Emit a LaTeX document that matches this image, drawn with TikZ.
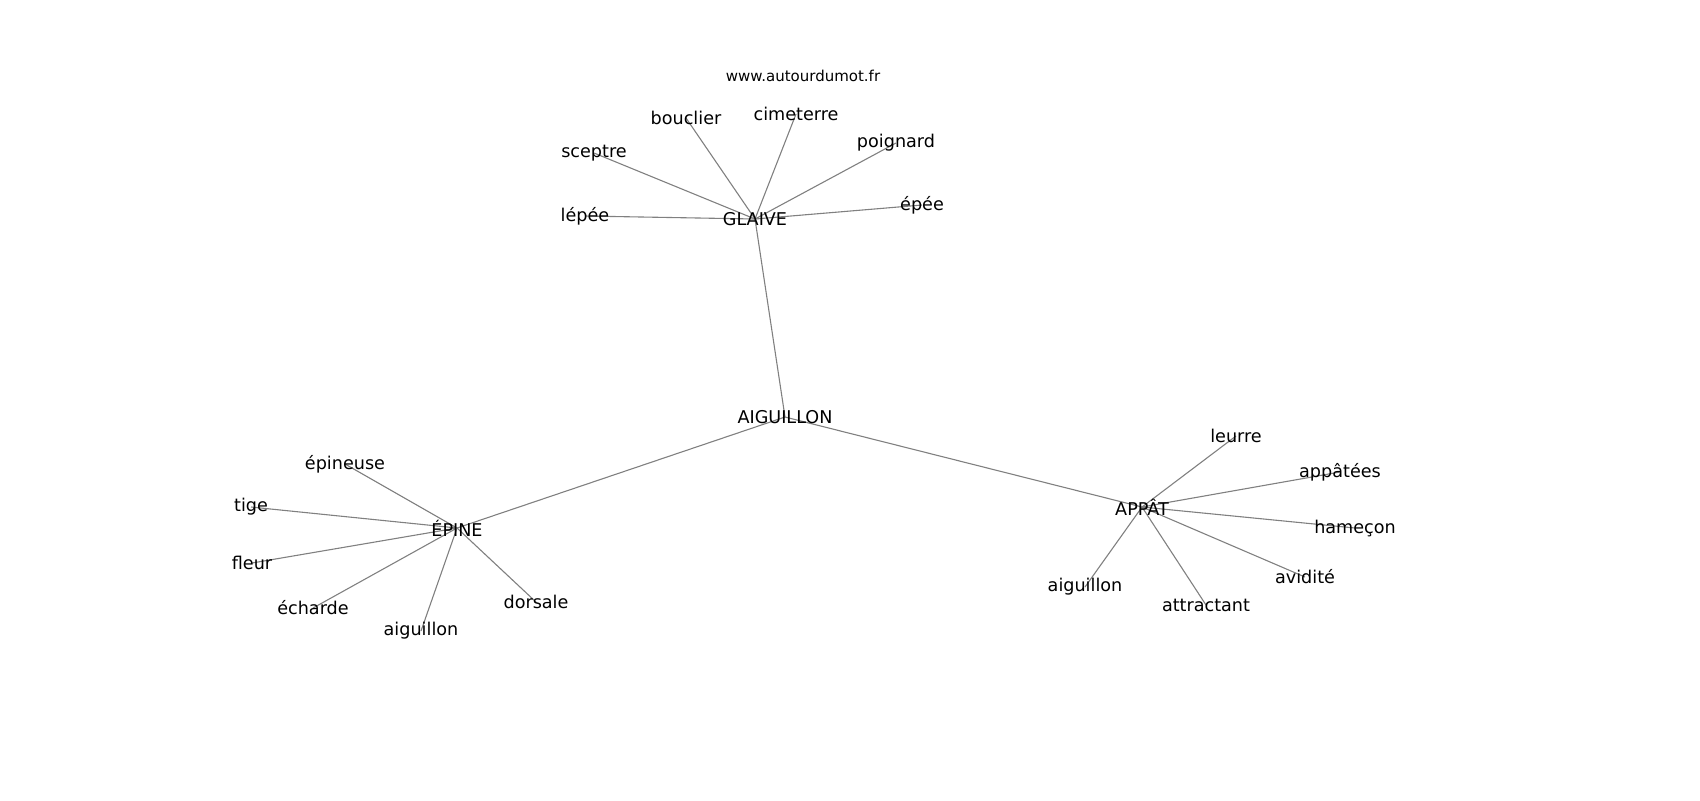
\documentclass[tikz,border=0pt]{standalone}
\usepackage{fontspec}
\setmainfont{DejaVu Sans}
\usetikzlibrary{backgrounds}
\tikzset{
    word/.style={inner sep=0pt, font=\fontsize{8.8}{10}\selectfont},
    site/.style={inner sep=0pt, font=\fontsize{7.5}{9}\selectfont},
    link/.style={draw=gray, line width=0.55pt}
}

\begin{document}
\begin{tikzpicture}[x=0.5pt, y=-0.5pt]
    \useasboundingbox (0,0) rectangle (1700,800);
    \node[site] (site) at (803,76) {www.autourdumot.fr};
    % hubs
    \node[word] (aig) at (785,417) {AIGUILLON};
    \node[word] (glaive) at (755,219) {GLAIVE};
    \node[word] (epine) at (457,528) {ÉPINE};
    \node[word] (appat) at (1142,507) {APPÂT};
    % glaive
    \node[word] (bouclier) at (686,118) {bouclier};
    \node[word] (cimeterre) at (796,114) {cimeterre};
    \node[word] (poignard) at (896,143) {poignard};
    \node[word] (sceptre) at (594,153) {sceptre};
    \node[word] (lepee) at (585,216) {lépée};
    \node[word] (epee) at (922,205) {épée};
    % epine
    \node[word] (epineuse) at (345,464) {épineuse};
    \node[word] (tige) at (251,507) {tige};
    \node[word] (fleur) at (252,563) {fleur};
    \node[word] (echarde) at (313,608) {écharde};
    \node[word] (aigA) at (421,631) {aiguillon};
    \node[word] (dorsale) at (536,602) {dorsale};
    % appat
    \node[word] (leurre) at (1236,436) {leurre};
    \node[word] (appatees) at (1340,472) {appâtées};
    \node[word] (hamecon) at (1355,528) {hameçon};
    \node[word] (avidite) at (1305,577) {avidité};
    \node[word] (attractant) at (1206,605) {attractant};
    \node[word] (aigB) at (1085,587) {aiguillon};
    \begin{scope}[on background layer]
    \path (aig.center) edge[link] (glaive.center)
        (aig.center) edge[link] (epine.center)
        (aig.center) edge[link] (appat.center);
    \foreach \w in {bouclier,cimeterre,poignard,sceptre,lepee,epee}
        \path (glaive.center) edge[link] (\w.center);
    \foreach \w in {epineuse,tige,fleur,echarde,aigA,dorsale}
        \path (epine.center) edge[link] (\w.center);
    \foreach \w in {leurre,appatees,hamecon,avidite,attractant,aigB}
        \path (appat.center) edge[link] (\w.center);
    \end{scope}
\end{tikzpicture}
\end{document}
